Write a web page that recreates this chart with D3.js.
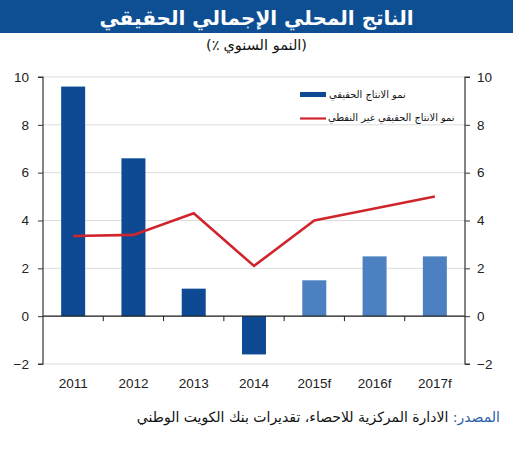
<!DOCTYPE html>
<html><head><meta charset="utf-8">
<script src="https://cdn.jsdelivr.net/npm/d3@7"></script>
<style>body{margin:0;background:#fff}</style>
</head><body>
<svg id="c" width="513" height="450"></svg>
<script>
const categories = ["2011","2012","2013","2014","2015f","2016f","2017f"];
const realGDP = [9.6, 6.6, 1.15, -1.6, 1.5, 2.5, 2.5];
const nonOilGDP = [3.35, 3.4, 4.3, 2.1, 4.0, 4.5, 5.0];
const forecast = [false,false,false,false,true,true,true];
const yTicks = [-2,0,2,4,6,8,10];
const title = "الناتج المحلي الإجمالي الحقيقي";
// subtitle pieces in visual left-to-right order
const subtitleParts = ["(", "٪", " ", "النمو السنوي", ")"];
const legendLabels = ["نمو الانتاج الحقيقي","نمو الانتاج الحقيقي غير النفطي"];
const sourceLabel = "المصدر: ";
const sourceText = "الادارة المركزية للاحصاء، تقديرات بنك الكويت الوطني";

(function(){
const svg = d3.select("#c");
const W = 513;
const pLeft = 43, pRight = 465, pTop = 77, pBottom = 364;
const dark = "#0d4a93", light = "#4c80c1", red = "#d0252d";
const arFont = "'DejaVu Sans', sans-serif";
const numFont = "'Liberation Sans', Arial, sans-serif";

svg.append("rect").attr("x",0).attr("y",0).attr("width",W).attr("height",33).attr("fill","#0e4f93");
svg.append("text").attr("x",W/2).attr("y",25).attr("text-anchor","middle")
  .attr("direction","rtl").attr("fill","#fff").attr("font-family",arFont)
  .attr("font-weight","bold").attr("font-size",20).text(title);

// subtitle laid out piece by piece to control bidi order
const sg = svg.append("g");
const pieces = subtitleParts.map(p => sg.append("text").attr("y",50)
  .attr("fill","#111").attr("font-family",arFont).attr("font-size",14.5)
  .attr("direction", /[\u0600-\u06FF]/.test(p) && p.length>1 ? "rtl" : "ltr")
  .attr("text-anchor", /[\u0600-\u06FF]/.test(p) && p.length>1 ? "end" : "start")
  .text(p));
const widths = pieces.map((t,i)=> subtitleParts[i]===" " ? 4 : t.node().getComputedTextLength());
const total = d3.sum(widths);
let cx = W/2 - total/2;
pieces.forEach((t,i)=>{ t.attr("x", cx); cx += widths[i]; });

const xb = d3.scaleBand().domain(categories).range([pLeft,pRight]);
const y = d3.scaleLinear().domain([-2,10]).range([pBottom,pTop]);

svg.append("g").selectAll("line").data(yTicks).join("line")
  .attr("x1",pLeft).attr("x2",pRight).attr("y1",d=>y(d)).attr("y2",d=>y(d))
  .attr("stroke","#dcdcdc").attr("stroke-width",1);

svg.append("g").selectAll("rect").data(categories).join("rect")
  .attr("x",d=>xb(d)+xb.bandwidth()/2-12).attr("width",24)
  .attr("y",(d,i)=>y(Math.max(0,realGDP[i])))
  .attr("height",(d,i)=>Math.abs(y(realGDP[i])-y(0)))
  .attr("fill",(d,i)=>forecast[i]?light:dark);

svg.append("line").attr("x1",pLeft).attr("x2",pRight).attr("y1",y(0)).attr("y2",y(0))
  .attr("stroke","#222").attr("stroke-width",1.2);
svg.append("g").selectAll("line").data(categories.slice(1)).join("line")
  .attr("x1",d=>xb(d)).attr("x2",d=>xb(d)).attr("y1",y(0)).attr("y2",y(0)+5)
  .attr("stroke","#222");

const line = d3.line().x((d,i)=>xb(categories[i])+xb.bandwidth()/2).y(d=>y(d));
svg.append("path").datum(nonOilGDP).attr("d",line).attr("fill","none")
  .attr("stroke",red).attr("stroke-width",2.6).attr("stroke-linejoin","miter");

const yl = svg.append("g").attr("transform",`translate(${pLeft},0)`)
  .call(d3.axisLeft(y).tickValues(yTicks).tickSize(5).tickPadding(9).tickFormat(d3.format("d")));
const yr = svg.append("g").attr("transform",`translate(${pRight},0)`)
  .call(d3.axisRight(y).tickValues(yTicks).tickSize(5).tickPadding(7).tickFormat(d3.format("d")));
[yl,yr].forEach(g=>{
  g.select(".domain").attr("stroke","#333").attr("stroke-width",1.2).attr("d", g===yl?`M-5,${pTop}H0V${pBottom}H-5`:`M5,${pTop}H0V${pBottom}H5`);
  g.selectAll(".tick line").attr("stroke","#333");
  g.selectAll("text").attr("font-family",numFont).attr("font-size",13.5).attr("fill","#222");
});

svg.append("g").selectAll("text").data(categories).join("text")
  .attr("x",d=>xb(d)+xb.bandwidth()/2).attr("y",388).attr("text-anchor","middle")
  .attr("font-family",numFont).attr("font-size",13.5).attr("fill","#222").text(d=>d);

const lg = svg.append("g");
lg.append("text").attr("x",329).attr("y",98).attr("direction","rtl").attr("text-anchor","end")
  .attr("font-family",arFont).attr("font-size",9.9).attr("fill","#111").text(legendLabels[0]);
lg.append("text").attr("x",328).attr("y",121).attr("direction","rtl").attr("text-anchor","end")
  .attr("font-family",arFont).attr("font-size",9.9).attr("fill","#111").text(legendLabels[1]);
lg.append("rect").attr("x",300).attr("y",92).attr("width",26).attr("height",5).attr("fill",dark);
lg.append("line").attr("x1",300).attr("x2",326).attr("y1",118.5).attr("y2",118.5).attr("stroke",red).attr("stroke-width",2.2);

const st = svg.append("text").attr("x",500).attr("y",422).attr("direction","rtl").attr("text-anchor","start")
  .attr("font-family",arFont).attr("font-size",14);
st.append("tspan").attr("fill","#2a5ea8").text(sourceLabel);
st.append("tspan").attr("fill","#111").text(sourceText);
})();
</script>
</body></html>
